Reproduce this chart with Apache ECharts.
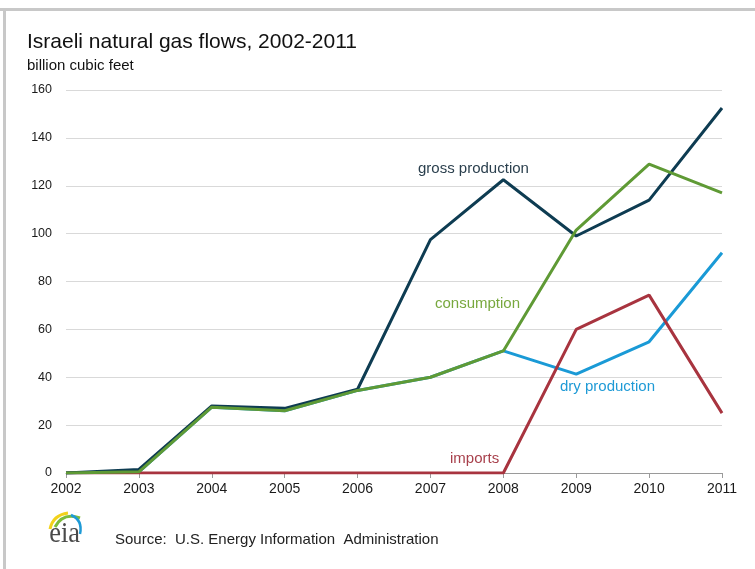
<!DOCTYPE html>
<html><head><meta charset="utf-8">
<script src="https://cdn.jsdelivr.net/npm/echarts@6/dist/echarts.min.js"></script>
<style>html,body{margin:0;padding:0;background:#fff}#c{width:755px;height:569px}</style>
</head><body><div id="c"></div>
<script>
var years = ['2002','2003','2004','2005','2006','2007','2008','2009','2010','2011'];
var yTicks = [0,20,40,60,80,100,120,140,160];
var grossProduction = [0, 1.5, 28, 27, 35, 97.5, 122.5, 99, 114, 152.5];
var consumption = [0, 0.5, 27.5, 26, 34.5, 40, 51, 101.5, 129, 117];
var dryProduction = [0, 0.5, 27.5, 26, 34.5, 40, 51, 41.3, 54.8, 92];
var imports = [0, 0, 0, 0, 0, 0, 0, 60, 74.3, 25];

var chart = echarts.init(document.getElementById('c'));
var sans = "'Liberation Sans',Arial,sans-serif";
function line(name, data, color, z){
  return {name:name, type:'line', data:data, symbol:'none', z:z,
    lineStyle:{color:color, width:3}, itemStyle:{color:color}, animation:false};
}
chart.setOption({
  animation:false,
  grid:{left:66, right:33, top:90, bottom:96},
  xAxis:{type:'category', data:years, boundaryGap:false,
    axisLine:{lineStyle:{color:'#9a9a9a', width:1}},
    axisTick:{show:true, length:5, alignWithLabel:true, lineStyle:{color:'#9a9a9a'}},
    axisLabel:{color:'#1a1a1a', fontFamily:sans, fontSize:14, margin:9},
    splitLine:{show:false}},
  yAxis:{type:'value', min:yTicks[0], max:yTicks[yTicks.length-1], interval:20,
    axisLine:{show:false}, axisTick:{show:false},
    axisLabel:{color:'#1a1a1a', fontFamily:sans, fontSize:12.5, margin:14},
    splitLine:{lineStyle:{color:'#d9d9d9', width:1}}},
  series:[
    line('dry production', dryProduction, '#1a9ad6', 2),
    line('imports', imports, '#a8343f', 3),
    line('gross production', grossProduction, '#0e3c52', 4),
    line('consumption', consumption, '#5f9a35', 5)
  ],
  graphic:[
    {type:'rect', left:0, top:8, shape:{width:755, height:3}, style:{fill:'#c8c8c8'}, silent:true},
    {type:'rect', left:3, top:8, shape:{width:3, height:561}, style:{fill:'#c8c8c8'}, silent:true},
    {type:'text', left:27, top:32, style:{text:'Israeli natural gas flows, 2002-2011', font:'21px '+sans, fill:'#111'}},
    {type:'text', left:27, top:58, style:{text:'billion cubic feet', font:'15px '+sans, fill:'#111'}},
    {type:'text', left:418, top:161, style:{text:'gross production', font:'15px '+sans, fill:'#2a3f4d'}},
    {type:'text', left:435, top:296, style:{text:'consumption', font:'15px '+sans, fill:'#78a83e'}},
    {type:'text', left:560, top:379, style:{text:'dry production', font:'15px '+sans, fill:'#1e9ad6'}},
    {type:'text', left:450, top:451, style:{text:'imports', font:'15px '+sans, fill:'#a8404c'}},
    {type:'text', left:115, top:532, style:{text:'Source:  U.S. Energy Information  Administration', font:'15px '+sans, fill:'#222'}},
    {type:'text', x:44, y:549, scaleX:0.88, originX:44, originY:549,
      style:{text:'eia', font:'30px "Liberation Serif",serif', fill:'#4a4a4a', textVerticalAlign:'bottom'}},
    {type:'bezierCurve', shape:{x1:50, y1:529, x2:68, y2:513, cpx1:53, cpy1:515}, style:{stroke:'#f2d21b', lineWidth:3, fill:null}},
    {type:'bezierCurve', shape:{x1:55, y1:527, x2:80, y2:518, cpx1:63, cpy1:512}, style:{stroke:'#7cbc3c', lineWidth:3, fill:null}},
    {type:'bezierCurve', shape:{x1:71, y1:515, x2:80, y2:534, cpx1:83, cpy1:520}, style:{stroke:'#1e9ad6', lineWidth:2.5, fill:null}}
  ]
});
</script></body></html>
